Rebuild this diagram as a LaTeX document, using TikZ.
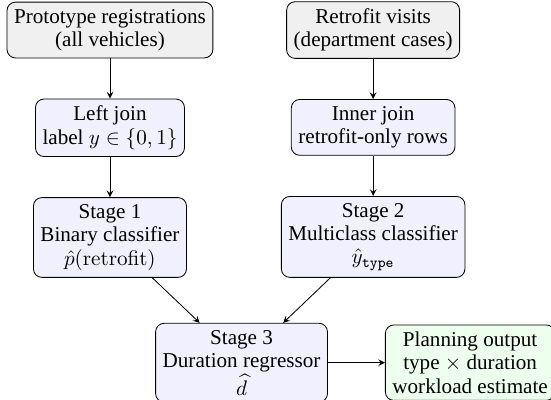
\documentclass[tikz,border=0pt]{standalone}
\usepackage{amsmath}
\usepackage{amssymb}
\usepackage[no-math]{fontspec}
\setmainfont{Liberation Serif}
\usetikzlibrary{shapes,arrows,positioning}

\begin{document}
\begin{tikzpicture}[align=center, node distance=0.67cm and 0.95cm]
    \tikzset{
        n/.style        =   { rectangle
                            , rounded corners
                            , text centered
                            , draw=black
                            , fill=blue!6
                            , font=\fontsize{10}{11}\selectfont
        }
        , src/.style    =   { n
                            , fill=black!6
        }
        , res/.style    =   { n
                            , fill=green!7
        }
        , arrow/.style  =   { thin
                            , -stealth
        }
    }
    \useasboundingbox (-1.83,0.5) rectangle (7.34,-6.15);

    % left column: all prototypes
    \node(0)[src]                {Prototype registrations\\(all vehicles)};
    \node(1)[n, below=of 0]      {Left join\\label $y \in \{0, 1\}$};
    \node(2)[n, below=of 1]      {Stage 1\\Binary classifier\\$\hat{p}(\mathrm{retrofit})$};

    % right column: retrofit cases only
    \node(3)[src] at (4.38,0)    {Retrofit visits\\(department cases)};
    \node(4)[n, below=of 3]      {Inner join\\retrofit-only rows};
    \node(5)[n, below=of 4]      {Stage 2\\Multiclass classifier\\$\hat{y}_{\mathtt{type}}$};

    \path (2.south) -- (5.south) coordinate[midway] (m);
    \node(6)[n, below=0.75cm of m] {Stage 3\\Duration regressor\\$\widehat{d}$};
    \node(7)[res, right=of 6]    {Planning output\\type $\times$ duration\\workload estimate};

    \draw[arrow] (0) -- (1);
    \draw[arrow] (1) -- (2);
    \draw[arrow] (3) -- (4);
    \draw[arrow] (4) -- (5);
    \draw[arrow] (2) -- (6);
    \draw[arrow] (5) -- (6);
    \draw[arrow] (6) -- (7);
\end{tikzpicture}
\end{document}
